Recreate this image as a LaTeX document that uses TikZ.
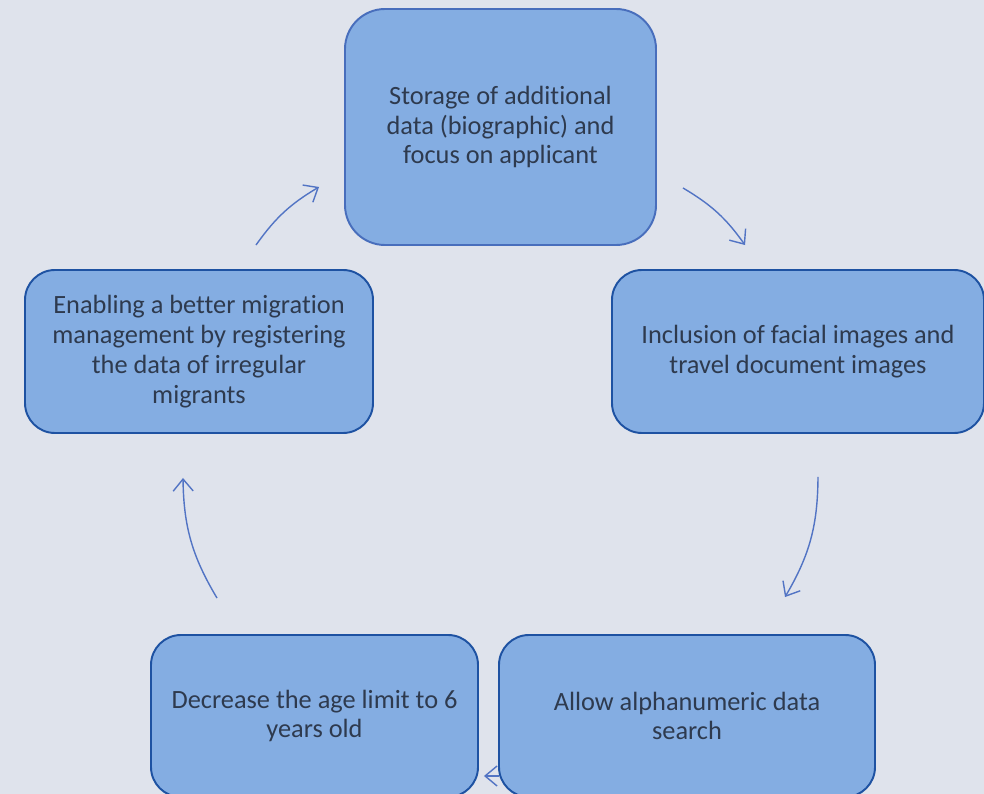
\documentclass[tikz,border=0pt]{standalone}
\usepackage{fontspec}
\setmainfont[Ligatures=NoCommon]{Carlito}
\usetikzlibrary{arrows.meta}

\definecolor{pagebg}{RGB}{223,227,236}
\definecolor{boxfill}{RGB}{132,173,226}
\definecolor{boxline}{RGB}{30,82,162}
\definecolor{topline}{RGB}{72,110,188}
\definecolor{arrowblue}{RGB}{82,116,196}
\definecolor{textgray}{RGB}{46,58,78}

\begin{document}
\begin{tikzpicture}[x = 0.02cm, y = -0.02cm,
    >= {Straight Barb[length=2.4mm, width=4mm]},
    box/.style = {draw = boxline, line width = 1.1pt, fill = boxfill,
      rounded corners = 0.6cm, align = center, text = textgray,
      font = \fontsize{15}{17}\selectfont, inner sep = 0pt},
    flow/.style = {->, draw = arrowblue, line width = 0.8pt}]
          \fill[pagebg] (0,0) rectangle (984,794);
          \useasboundingbox (0,0) rectangle (984,794);
          \node[box, draw = topline, rounded corners = 0.8cm,
            minimum width = 311*0.02cm, minimum height = 236*0.02cm]
            (storage) at (500.5,127) {Storage of additional\\data (biographic) and\\focus on applicant};
          \node[box, minimum width = 372*0.02cm, minimum height = 163*0.02cm]
            (facial) at (798,351.5) {Inclusion of facial images and\\travel document images};
          \node[box, minimum width = 348*0.02cm, minimum height = 163*0.02cm]
            (migrants) at (199,351.5) {Enabling a better migration\\management by registering\\the data of irregular\\migrants};
          \node[box, minimum width = 327*0.02cm, minimum height = 162*0.02cm]
            (age) at (314.5,716) {Decrease the age limit to 6\\years old};
          \node[box, minimum width = 376*0.02cm, minimum height = 162*0.02cm]
            (search) at (687,716) {Allow alphanumeric data\\search};
          % cycle arrows
          \draw[flow] ([shift={(26,-58)}]storage.south east) to[bend left=12] ([shift={(134,-24)}]facial.north west);
          \draw[flow] ([shift={(20,43)}]facial.south) to[bend left=15] ([shift={(98,-37)}]search.north);
          \draw[flow] ([shift={(1,60)}]search.west) -- ([shift={(5,60)}]age.east);
          \draw[flow] ([shift={(-97.5,-36)}]age.north) to[bend left=15] ([shift={(-16,44)}]migrants.south);
          \draw[flow] ([shift={(57,-24)}]migrants.north) to[bend left=12] ([shift={(-25,-59)}]storage.south west);
        \end{tikzpicture}
\end{document}
